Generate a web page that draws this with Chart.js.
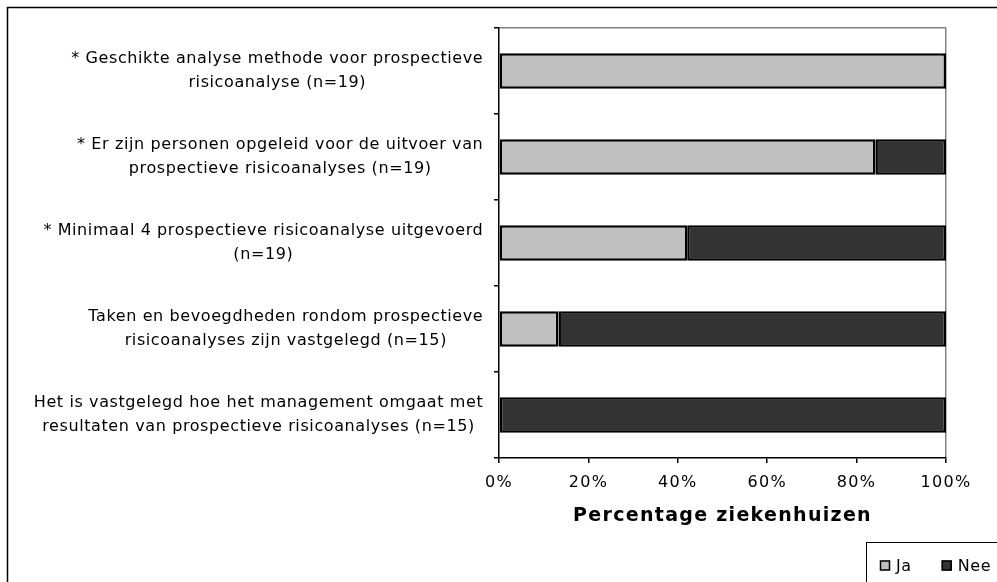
<!DOCTYPE html>
<html>
<head>
<meta charset="utf-8">
<script src="https://cdn.jsdelivr.net/npm/chart.js@4"></script>
<style>
  html, body { margin: 0; padding: 0; background: #fff; }
  #wrap { width: 997px; height: 582px; }
</style>
</head>
<body>
<div id="wrap"><canvas id="chart" width="997" height="582"></canvas></div>
<script>
// categorieën (regels per label)
const categories = [
    ['* Geschikte analyse methode voor prospectieve', 'risicoanalyse (n=19)'],
    ['* Er zijn personen opgeleid voor de uitvoer van', 'prospectieve risicoanalyses (n=19)'],
    ['* Minimaal 4 prospectieve risicoanalyse uitgevoerd', '(n=19)'],
    ['Taken en bevoegdheden rondom prospectieve', 'risicoanalyses zijn vastgelegd (n=15)'],
    ['Het is vastgelegd hoe het management omgaat met', 'resultaten van prospectieve risicoanalyses (n=15)']
];
const jaValues = [100, 84.2, 42.1, 13.3, 0];
const neeValues = [0, 15.8, 57.9, 86.7, 100];
const xTicks = [0, 20, 40, 60, 80, 100];

const FONT = '"DejaVu Sans", sans-serif';

// Frame rond de grafiek; letterafstand iets ruimer (Verdana-achtig)
const framePlugin = {
    id: 'frame',
    beforeDraw(chart) {
        const c = chart.ctx;
        c.save();
        c.strokeStyle = '#000';
        c.lineWidth = 1.5;
        c.strokeRect(7.5, 7.5, 1200, 1200);
        c.restore();
        c.letterSpacing = '1.3px';
    }
};

// Labels van de y-as: blok rechts uitgelijnd, regels gecentreerd
const yLabelPlugin = {
    id: 'yLabels',
    afterDraw(chart) {
        const c = chart.ctx;
        const y = chart.scales.y;
        const right = chart.chartArea.left - 16;
        const lineH = 24;
        c.save();
        c.letterSpacing = '0.6px';
        c.font = '16px ' + FONT;
        c.fillStyle = '#000';
        c.textAlign = 'center';
        c.textBaseline = 'middle';
        chart.data.labels.forEach((lines, i) => {
            const cy = y.getPixelForValue(i);
            const widest = Math.max(...lines.map(l => c.measureText(l).width));
            const cx = right - widest / 2 + 0.3;
            const y0 = cy - (lines.length - 1) * lineH / 2;
            lines.forEach((l, k) => c.fillText(l, cx, y0 + k * lineH));
        });
        c.restore();
    }
};

// Legenda rechtsonder in een kader
const legendPlugin = {
    id: 'boxLegend',
    afterDraw(chart) {
        const c = chart.ctx;
        c.save();
        c.letterSpacing = '0.6px';
        c.strokeStyle = '#000';
        c.lineWidth = 1;
        c.strokeRect(866.5, 542.5, 200, 100);
        c.font = '16px ' + FONT;
        c.textBaseline = 'middle';
        let x = 880;
        const cy = 565.5;
        chart.data.datasets.forEach(ds => {
            c.fillStyle = ds.backgroundColor;
            c.fillRect(x, cy - 5, 10, 10);
            c.lineWidth = 1.5;
            c.strokeRect(x + 0.5, cy - 4.5, 9, 9);
            c.fillStyle = '#000';
            c.fillText(ds.label, x + 16, cy + 1);
            x += 16 + c.measureText(ds.label).width + 30;
        });
        c.restore();
    }
};

const zeroless = ctx => (ctx.raw === 0 ? 0 : 2.5);

new Chart(document.getElementById('chart'), {
    type: 'bar',
    data: {
        labels: categories,
        datasets: [
            { label: 'Ja', data: jaValues, backgroundColor: '#c0c0c0', borderColor: '#000', borderWidth: zeroless, borderSkipped: false },
            { label: 'Nee', data: neeValues, backgroundColor: '#333333', borderColor: '#000', borderWidth: zeroless, borderSkipped: false }
        ]
    },
    options: {
        indexAxis: 'y',
        responsive: false,
        animation: false,
        events: [],
        layout: { padding: { left: 0, right: 51, top: 28, bottom: 0 } },
        datasets: { bar: { categoryPercentage: 1, barPercentage: 0.41 } },
        plugins: { legend: { display: false }, tooltip: { enabled: false } },
        scales: {
            x: {
                stacked: true,
                min: 0,
                max: 100,
                afterBuildTicks: s => { s.ticks = xTicks.map(v => ({ value: v })); },
                afterFit: s => { s.height = 124; },
                ticks: {
                    callback: v => v + '%',
                    color: '#000',
                    font: { family: FONT, size: 16 },
                    padding: 10,
                    maxRotation: 0,
                    autoSkip: false
                },
                grid: {
                    color: ctx => (ctx.index === xTicks.length - 1 ? '#808080' : 'rgba(0,0,0,0)'),
                    tickColor: '#000',
                    tickLength: 5,
                    lineWidth: 1.5
                },
                border: { color: '#000', width: 1.5 },
                title: {
                    display: true,
                    text: 'Percentage ziekenhuizen',
                    color: '#000',
                    font: { family: FONT, size: 19, weight: 'bold' },
                    padding: { top: 0, bottom: 55 }
                }
            },
            y: {
                stacked: true,
                afterFit: s => { s.width = 499; },
                ticks: { display: false },
                grid: {
                    offset: true,
                    color: ctx => (ctx.index === 0 ? '#808080' : 'rgba(0,0,0,0)'),
                    tickColor: '#000',
                    tickLength: 5,
                    lineWidth: 1.5
                },
                border: { color: '#000', width: 1.5 }
            }
        }
    },
    plugins: [framePlugin, yLabelPlugin, legendPlugin]
});
</script>
</body>
</html>
